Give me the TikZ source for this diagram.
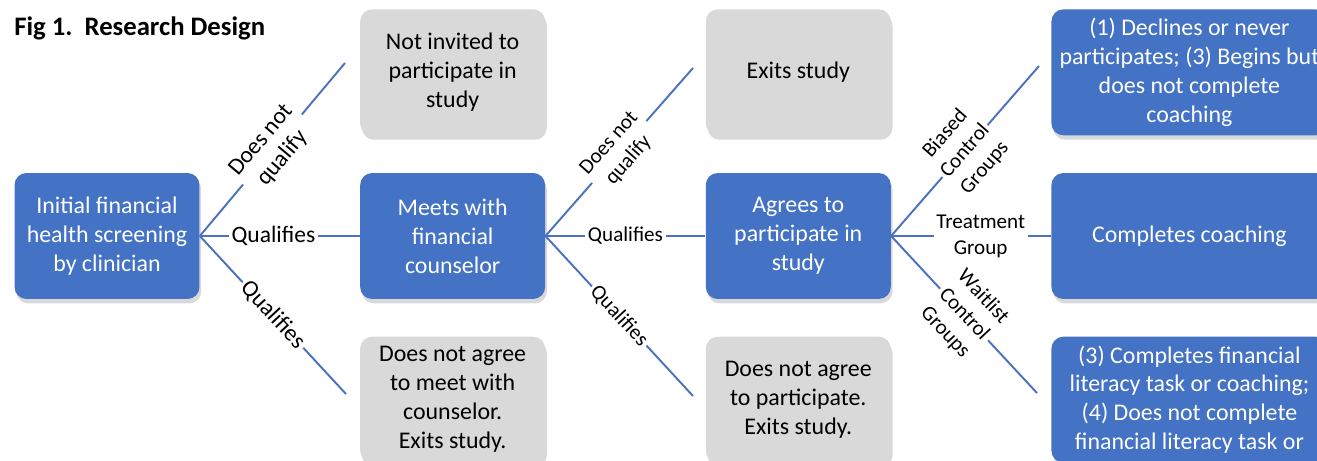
\documentclass[tikz,border=0pt]{standalone}
\usepackage{fontspec}
\setmainfont{Carlito}
\usetikzlibrary{positioning,shadows}
\definecolor{StepBlue}{HTML}{4472C4}
\definecolor{StepGray}{HTML}{D9D9D9}
\definecolor{LinkBlue}{HTML}{4A72BE}

\begin{document}
\begin{tikzpicture}[x=0.02cm, y=-0.02cm, node distance=0.74cm and 3.2cm,
  box/.style={rounded corners=0.24cm, minimum width=3.7cm, minimum height=2.52cm, align=center, inner sep=2pt, font=\fontsize{13.6}{16.5}\selectfont, drop shadow={opacity=0.3, shadow xshift=1pt, shadow yshift=-2.5pt}},
  stage/.style={box, fill=StepBlue, text=white},
  exitbox/.style={box, fill=StepGray, text=black},
  outcome/.style={stage, minimum width=5.52cm},
  conn/.style={draw=LinkBlue, line width=1.1pt},
  lbl/.style={fill=white, inner sep=1.5pt, align=center, font=\fontsize{12}{14.8}\selectfont},
  biglbl/.style={lbl, font=\fontsize{13.4}{16}\selectfont}]
  \useasboundingbox (0,0) rectangle (1317,460);
  \clip (0,0) rectangle (1317,460);
  \node[anchor=base west, inner sep=0, font=\bfseries\fontsize{15.2}{17}\selectfont] (title) at (14,35) {Fig 1.\ \ Research Design};

  % main path
  \node[stage] (init) at (107,236) {Initial financial\\health screening\\by clinician};
  \node[stage, right=of init] (meets) {Meets with\\financial\\counselor};
  \node[stage, right=of meets] (agrees) {Agrees to\\participate in\\study};
  \node[outcome, right=of agrees] (treat) {Completes coaching};

  % side branches
  \node[exitbox, above=of meets] (notinv) {Not invited to\\participate in\\study};
  \node[exitbox, below=of meets] (nomeet) {Does not agree\\to meet with\\counselor.\\Exits study.};
  \node[exitbox, above=of agrees] (exits) {Exits study};
  \node[exitbox, below=of agrees] (nopart) {Does not agree\\to participate.\\Exits study.};
  \node[outcome, above=of treat] (biased) {(1) Declines or never\\participates; (3) Begins but\\does not complete\\coaching};
  \node[outcome, below=of treat] (wait) {(3) Completes financial\\literacy task or coaching;\\(4) Does not complete\\financial literacy task or};

  % free ends of the diagonal links
  \coordinate (c1u) at (345,63);
  \coordinate (c1d) at (346,394);
  \coordinate (c2u) at (693,68);
  \coordinate (c2d) at (693,396);
  \coordinate (c3u) at (1039,66);
  \coordinate (c3d) at (1037,393);

  \draw[conn] (init.east) -- node[biglbl, sloped, midway]{Does not\\qualify} (c1u);
  \draw[conn] (init.east) -- node[biglbl, pos=0.46]{Qualifies} (meets.west);
  \draw[conn] (init.east) -- node[biglbl, sloped, midway]{Qualifies} (c1d);

  \draw[conn] (meets.east) -- node[lbl, sloped, midway]{Does not\\qualify} (c2u);
  \draw[conn] (meets.east) -- node[lbl, midway]{Qualifies} (agrees.west);
  \draw[conn] (meets.east) -- node[lbl, sloped, midway]{Qualifies} (c2d);

  \draw[conn] (agrees.east) -- node[lbl, sloped, midway]{Biased\\Control\\Groups} (c3u);
  \draw[conn] (agrees.east) -- node[lbl, pos=0.56]{Treatment\\Group} (treat.west);
  \draw[conn] (agrees.east) -- node[lbl, sloped, midway]{Waitlist\\Control\\Groups} (c3d);
\end{tikzpicture}
\end{document}
